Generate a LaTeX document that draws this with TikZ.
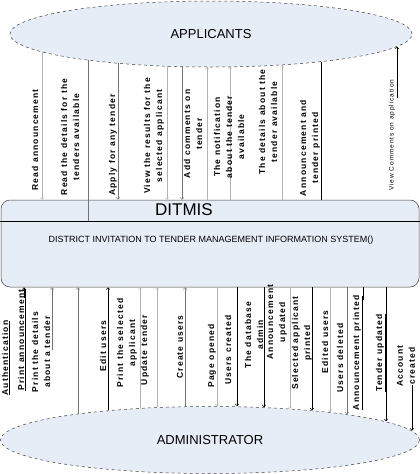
\documentclass[tikz,border=0pt]{standalone}
\usepackage{fontspec}
\setmainfont{Liberation Sans}
\newfontfamily\lblfont[LetterSpace=14]{Liberation Sans}
\usetikzlibrary{shapes.geometric,arrows.meta}
\definecolor{boxfill}{RGB}{231,237,246}

\begin{document}
\begin{tikzpicture}[x=1pt,y=-1pt,
  actor/.style={ellipse,draw=black!75,dashed,line width=0.5pt,fill=boxfill,inner sep=0,font=\fontsize{13}{15}\selectfont},
  lbl/.style={rotate=90,align=center,inner sep=0,font=\lblfont\bfseries\fontsize{8.5}{12}\selectfont},
  smalllbl/.style={rotate=90,inner sep=0,font=\lblfont\fontsize{6.5}{8}\selectfont},
  faint/.style={draw=black!30,line width=0.3pt},
  gline/.style={draw=black!55,line width=0.4pt},
  bline/.style={draw=black,line width=0.5pt},
  tip/.style={-{Straight Barb[length=2pt,width=3.5pt]}}]
\useasboundingbox (0,0) rectangle (420,474);

\node[actor,minimum width=402pt,minimum height=66pt] (app) at (211,34) {APPLICANTS};
\node[actor,minimum width=419pt,minimum height=67pt] (adm) at (210,440) {ADMINISTRATOR};

\node[draw=black!75,fill=boxfill,rounded corners=9pt,line width=0.5pt,
  minimum width=418pt,minimum height=87pt,inner sep=0] (sys) at (210,243.5) {};
\coordinate (hl) at (0,221);
\coordinate (hr) at (420,221);
\draw[line width=0.5pt] (hl) -- (hr);
\node[font=\fontsize{17}{19}\selectfont] (title) at (184,210) {DITMIS};
\node[font=\fontsize{9}{11}\selectfont] (full) at (211,240) {DISTRICT INVITATION TO TENDER MANAGEMENT INFORMATION SYSTEM()};

\coordinate (t1) at (42,51.9);
\coordinate (t2) at (88,60.1);
\coordinate (t3) at (118,63.3);
\coordinate (t4) at (167,66.2);
\coordinate (t5) at (182,66.7);
\coordinate (t6) at (207,67);
\coordinate (t7) at (230,66.8);
\coordinate (t8) at (282,64.9);
\coordinate (t9) at (321,61.6);
\coordinate (t10) at (397,46.5);
\coordinate (t10b) at (397,98);

\draw[faint,tip] (t1) -- (t1 |- sys.north);
\draw[gline] (t2) -- (t2 |- hl);
\draw[gline,tip] (t3) -- (t3 |- sys.north);
\draw[faint,tip] (t4) -- (t4 |- sys.north);
\draw[gline,tip] (t5) -- (t5 |- sys.north);
\draw[faint,tip] (t6 |- sys.north) -- (t6);
\draw[faint,tip] (t7 |- sys.north) -- (t7);
\draw[faint,tip] (t8 |- sys.north) -- (t8);
\draw[bline] (t9) -- (t9 |- sys.north);
\draw[bline,tip] (t10b) -- (t10);

\node[lbl] (readann) at (35,140) {Read announcement};
\node[lbl] (readdet) at (70,137) {Read the details for the\\tenders available};
\node[lbl] (apply) at (113,145) {Apply for any tender};
\node[lbl] (viewres) at (154,136) {View the results for the\\selected applicant};
\node[lbl] (addcom) at (193,134) {Add comments on\\tender};
\node[lbl] (notif) at (229,137) {The notification\\about the tender\\available};
\node[lbl] (details) at (268,122) {The details about the\\tender available};
\node[lbl] (annprint) at (310,148) {Announcement and\\tender printed};
\node[smalllbl] (viewcom) at (392,135) {View Comments on application};

\coordinate (b1) at (24,298);
\coordinate (b2) at (52,350);
\coordinate (b3) at (78,413.5);
\coordinate (b4) at (108,410.3);
\coordinate (b5) at (140,408);
\coordinate (b6) at (157,407.1);
\coordinate (b7) at (185,406.2);
\coordinate (b8) at (217,406);
\coordinate (b9) at (237,406.3);
\coordinate (b10) at (264,407.2);
\coordinate (b11) at (290,408.6);
\coordinate (b12) at (312,410.3);
\coordinate (b13) at (330,412.1);
\coordinate (b14) at (347,414.2);
\coordinate (b15) at (363,300);
\coordinate (b16) at (386,421.4);
\coordinate (b17a) at (412,385);
\coordinate (b17) at (412,430.7);

\draw[bline,tip] (b1) -- (b1 |- sys.south);
\draw[gline,tip] (b2) -- (b2 |- sys.south);
\draw[gline,tip] (b3) -- (b3 |- sys.south);
\draw[bline,tip] (b4) -- (b4 |- sys.south);
\draw[faint,tip] (b5) -- (b5 |- sys.south);
\draw[faint,tip] (b6) -- (b6 |- sys.south);
\draw[gline,tip] (b7) -- (b7 |- sys.south);
\draw[faint,tip] (b8 |- sys.south) -- (b8);
\draw[bline,tip] (b9 |- sys.south) -- (b9);
\draw[bline,tip] (b10 |- sys.south) -- (b10);
\draw[faint,tip] (b11 |- sys.south) -- (b11);
\draw[bline,tip] (b12 |- sys.south) -- (b12);
\draw[faint,tip] (b13 |- sys.south) -- (b13);
\draw[gline,tip] (b14 |- sys.south) -- (b14);
\draw[bline] (b15 |- sys.south) -- (b15);
\draw[bline,tip] (b16 |- sys.south) -- (b16);
\draw[bline,tip] (b17a) -- (b17);

\node[lbl] (auth) at (6,358) {\underline{Authentication}};
\node[lbl] (printann) at (22,340) {\underline{Print announcement}};
\node[lbl] (printdet) at (41,352) {Print the details\\about a tender};
\node[lbl] (edit) at (103,346) {Edit users};
\node[lbl] (printsel) at (127,343) {Print the selected\\applicant};
\node[lbl] (updt) at (145,350) {Update tender};
\node[lbl] (create) at (180,347) {Create users};
\node[lbl] (page) at (212,356) {Page opened};
\node[lbl] (ucreated) at (228,350) {Users created};
\node[lbl] (dbadmin) at (255,335) {The database\\\underline{admin}};
\node[lbl] (annupd) at (277,322) {Announcement\\updated};
\node[lbl] (selprint) at (302,343) {Selected applicant\\printed};
\node[lbl] (edited) at (325,342) {Edited users};
\node[lbl] (udel) at (340,358) {Users deleted};
\node[lbl] (annprinted) at (358,353) {\underline{Announcement printed}};
\node[lbl] (tupd) at (381,353) {\underline{Tender updated}};
\node[lbl] (acc) at (406,366) {Account\\created};
\end{tikzpicture}
\end{document}
